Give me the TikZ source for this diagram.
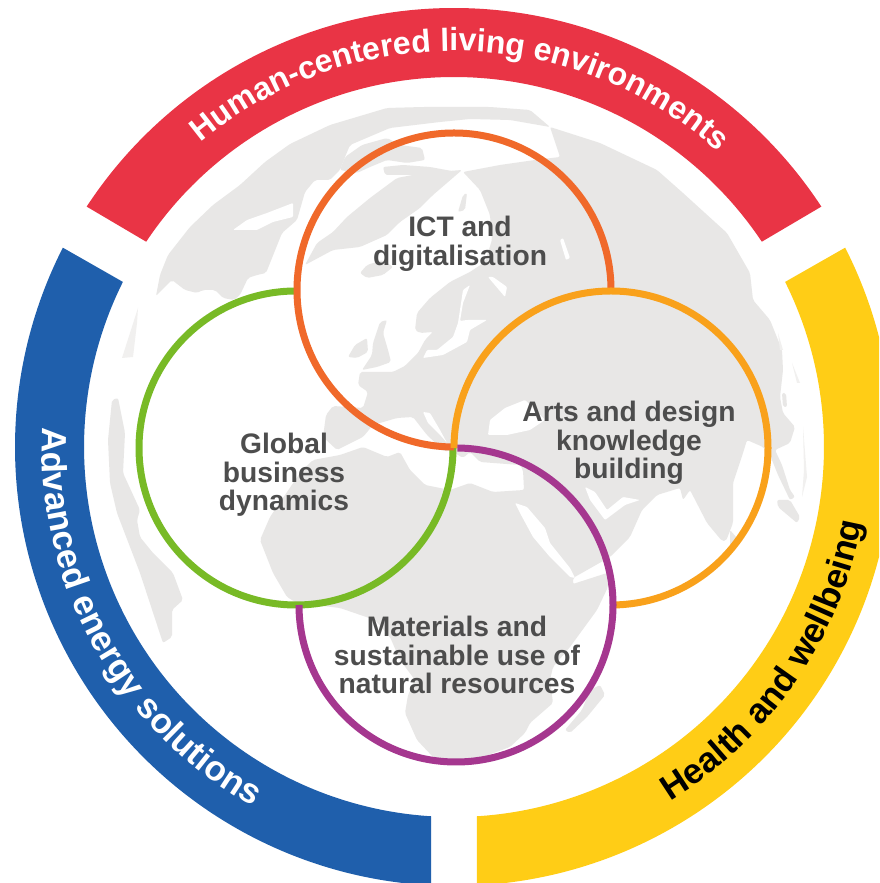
\documentclass[tikz,border=0pt]{standalone}
\usepackage{fontspec}
\setmainfont{Liberation Sans}
\usetikzlibrary{decorations.text}
\definecolor{bandred}{HTML}{E93445}
\definecolor{bandblue}{HTML}{1F5FAC}
\definecolor{bandyellow}{HTML}{FFCD16}
\definecolor{ringorange}{HTML}{F0692A}
\definecolor{ringgreen}{HTML}{78BA26}
\definecolor{ringamber}{HTML}{F9A11B}
\definecolor{ringpurple}{HTML}{A5378F}
\definecolor{labelgray}{HTML}{4D4D4D}
\definecolor{land}{HTML}{E8E7E6}
\definecolor{limb}{HTML}{F1F0EF}
\tikzset{
  ringline/.style={line width=7pt,line cap=butt},
  landshape/.style={fill=land,draw=none,rounded corners=2pt},
  seashape/.style={fill=white,draw=none,rounded corners=1pt},
  limbshape/.style={fill=limb,draw=none},
  circlelabel/.style={align=center,text=labelgray,font=\fontsize{28.2}{28.7}\selectfont\bfseries,inner sep=0pt},
  bandtext/.style={decorate,decoration={text along path,text align=center,text={#1}}}
}
\begin{document}
\begin{tikzpicture}[x=1pt,y=1pt]
\useasboundingbox (0,0) rectangle (879,883);
\fill[white] (0,0) rectangle (879,883);
% ---- world map (image pixel coordinates, y downward)
\begin{scope}[shift={(0,883)},yscale=-1]
% Eurasia + Africa
\fill[landshape] (415,330)--(417,313)--(430,298)--(450,282)--(470,272)--(485,262)--(492,240)--(490,215)--(480,190)--(463,172)--(500,165)--(535,160)--(560,157)--(550,127)--(600,143)--(657,170)--(683,193)--(727,233)--(750,273)--(753,300)--(770,320)--(782,350)--(783,370)--(780,397)--(783,413)--(795,427)--(790,443)--(775,450)--(782,465)--(790,490)--(795,497)--(790,500)--(778,475)--(770,455)--(763,447)--(747,440)--(743,453)--(733,483)--(733,523)--(726,541)--(722,541)--(707,523)--(690,490)--(683,500)--(680,488)--(657,495)--(642,510)--(630,537)--(610,557)--(573,578)--(573,584)--(607,573)--(608,587)--(597,610)--(570,647)--(553,667)--(550,680)--(553,703)--(530,723)--(525,733)--(510,747)--(480,758)--(450,761)--(433,757)--(417,740)--(405,713)--(408,695)--(415,680)--(400,660)--(390,637)--(375,620)--(340,608)--(297,603)--(287,597)--(273,573)--(260,540)--(270,517)--(300,473)--(313,460)--(340,455)--(363,447)--(387,457)--(400,452)--(410,470)--(425,485)--(450,490)--(470,483)--(493,492)--(524,490)--(523,470)--(520,465)--(480,462)--(470,452)--(463,458)--(450,450)--(445,452)--(427,435)--(413,417)--(397,418)--(373,425)--(363,437)--(337,450)--(323,437)--(326,415)--(333,406)--(363,408)--(368,392)--(358,385)--(360,372)--(393,372)--(405,366)--(418,353)--(425,340)--(433,332)--(420,333)--cycle;
% seas cut from it
\fill[seashape] (515,503)--(527,507)--(545,528)--(550,543)--(570,568)--(575,578)--(570,577)--(550,557)--(533,537)--(520,513)--cycle;
\fill[seashape] (585,487)--(595,492)--(607,510)--(623,497)--(640,500)--(625,505)--(605,520)--(590,500)--cycle;
\fill[seashape] (488,435)--(490,420)--(505,408)--(525,400)--(545,420)--(530,430)--(507,435)--cycle;
\fill[seashape] (423,358)--(427,350)--(437,350)--(453,337)--(458,323)--(463,290)--(470,285)--(463,303)--(460,321)--(467,320)--(487,320)--(470,330)--(467,342)--(443,355)--cycle;
\fill[seashape] (423,412)--(430,413)--(440,430)--(447,443)--(442,437)--(428,423)--cycle;
\fill[seashape] (488,277)--(505,297)--(507,287)--(493,277)--cycle;
\fill[seashape] (560,240)--(563,238)--(570,258)--(566,260)--cycle;
% North America and Arctic
\fill[landshape] (156,296)--(160,275)--(168,255)--(190,227)--(213,205)--(240,185)--(265,162)--(290,144)--(330,125)--(387,108)--(423,107)--(453,107)--(490,107)--(530,110)--(550,127)--(510,120)--(470,119)--(440,122)--(390,128)--(350,145)--(345,157)--(340,170)--(330,180)--(315,180)--(305,192)--(297,220)--(282,233)--(266,273)--(257,275)--(248,278)--(240,295)--(234,300)--(223,298)--(215,290)--(203,290)--(197,293)--(185,290)--(172,280)--(160,292)--cycle;
\fill[seashape] (233,230)--(247,220)--(267,213)--(293,203)--(293,217)--(273,222)--(257,230)--cycle;
% Canadian archipelago, Greenland, Iceland, Britain
\fill[landshape] (345,157)--(362,145)--(387,138)--(400,145)--(422,148)--(425,160)--(407,163)--(387,160)--(370,167)--(357,173)--(340,170)--cycle;
\fill[landshape] (383,167)--(403,165)--(430,167)--(457,172)--(437,175)--(403,175)--(385,175)--cycle;
\fill[landshape] (305,265)--(317,243)--(333,232)--(347,217)--(370,198)--(397,178)--(423,173)--(462,170)--(433,195)--(420,208)--(400,222)--(387,235)--(360,247)--(333,250)--cycle;
\fill[landshape] (360,273)--(367,265)--(383,260)--(393,267)--(383,275)--(367,278)--cycle;
\fill[landshape] (463,195)--(467,193)--(465,210)--(458,212)--cycle;
\fill[landshape] (380,322)--(387,320)--(383,333)--(388,350)--(391,362)--(377,367)--(362,370)--(372,355)--(373,343)--cycle;
\fill[landshape] (348,357)--(355,345)--(367,338)--(368,352)--(357,358)--cycle;
% Americas on the limb
\fill[landshape] (112,400)--(118,398)--(125,433)--(123,473)--(140,510)--(137,520)--(140,537)--(153,553)--(173,573)--(183,600)--(172,610)--(172,637)--(163,643)--(140,573)--(117,513)--(110,483)--(108,440)--cycle;
\fill[limbshape] (138,308)--(122,358)--(133,357)--(137,323)--cycle;
% Madagascar, Sri Lanka, south-east Asia slivers
\fill[landshape] (565,730)--(570,733)--(587,717)--(605,695)--(600,685)--(590,690)--(582,710)--cycle;
\fill[landshape] (730,530)--(737,538)--(737,545)--(730,546)--cycle;
\fill[landshape] (777,500)--(790,500)--(800,517)--(797,523)--(778,507)--cycle;
\fill[limbshape] (803,427)--(807,477)--(802,497)--(804,470)--cycle;
\fill[limbshape] (792,363)--(800,383)--(797,383)--cycle;
\fill[limbshape] (778,333)--(783,350)--(780,350)--cycle;
\fill[landshape] (782,393)--(786,393)--(787,407)--(783,407)--cycle;
\end{scope}
% ---- outer bands
\begin{scope}
\clip (0,0) rectangle (879,883);
\fill[bandred] ({454+439*cos(33.2)},{436+439*sin(33.2)}) arc[start angle=33.2,end angle=146.8,radius=439]
  -- ({454+370*cos(146.3)},{436+370*sin(146.3)}) arc[start angle=146.3,end angle=33.7,radius=370] -- cycle;
\fill[bandblue] ({454+439*cos(153)},{436+439*sin(153)}) arc[start angle=153,end angle=267,radius=439]
  -- ({454+370*cos(266.44)},{436+370*sin(266.44)}) arc[start angle=266.44,end angle=153.5,radius=370] -- cycle;
\fill[bandyellow] ({454+439*cos(273)},{436+439*sin(273)}) arc[start angle=273,end angle=387,radius=439]
  -- ({454+370*cos(386.5)},{436+370*sin(386.5)}) arc[start angle=386.5,end angle=273.56,radius=370] -- cycle;
\end{scope}
% ---- band texts
\path[bandtext={|\color{white}\fontsize{32}{32}\selectfont\bfseries|Human-centered living environments}]
  ({454+396*cos(139)},{436+396*sin(139)}) arc[start angle=139,end angle=39,radius=396];
\path[bandtext={|\color{white}\fontsize{35}{35}\selectfont\bfseries|Advanced energy solutions}]
  ({454+412*cos(170)},{436+412*sin(170)}) arc[start angle=170,end angle=248,radius=412];
\path[bandtext={|\color{black}\fontsize{35}{35}\selectfont\bfseries|Health and wellbeing}]
  ({454+415*cos(291.5)},{436+415*sin(291.5)}) arc[start angle=291.5,end angle=359.5,radius=415];
% ---- interlaced circles
\draw[ringline,ringgreen] (296,592) arc[start angle=90,end angle=360,radius=157];
\draw[ringline,ringorange] (611,593) arc[start angle=0,end angle=270,radius=157];
\draw[ringline,ringamber] (611,278) arc[start angle=270,end angle=540,radius=157];
\draw[ringline,ringpurple] (299,278) arc[start angle=180,end angle=449.5,radius=157];
% ---- labels
\node[circlelabel] (ict) at (460,639) {ICT and\\digitalisation};
\node[circlelabel] (global) at (284,408) {Global\\business\\dynamics};
\node[circlelabel] (arts) at (629,440) {Arts and design\\knowledge\\building};
\node[circlelabel] (materials) at (457,228) {Materials and\\sustainable use of\\natural resources};
\end{tikzpicture}
\end{document}
